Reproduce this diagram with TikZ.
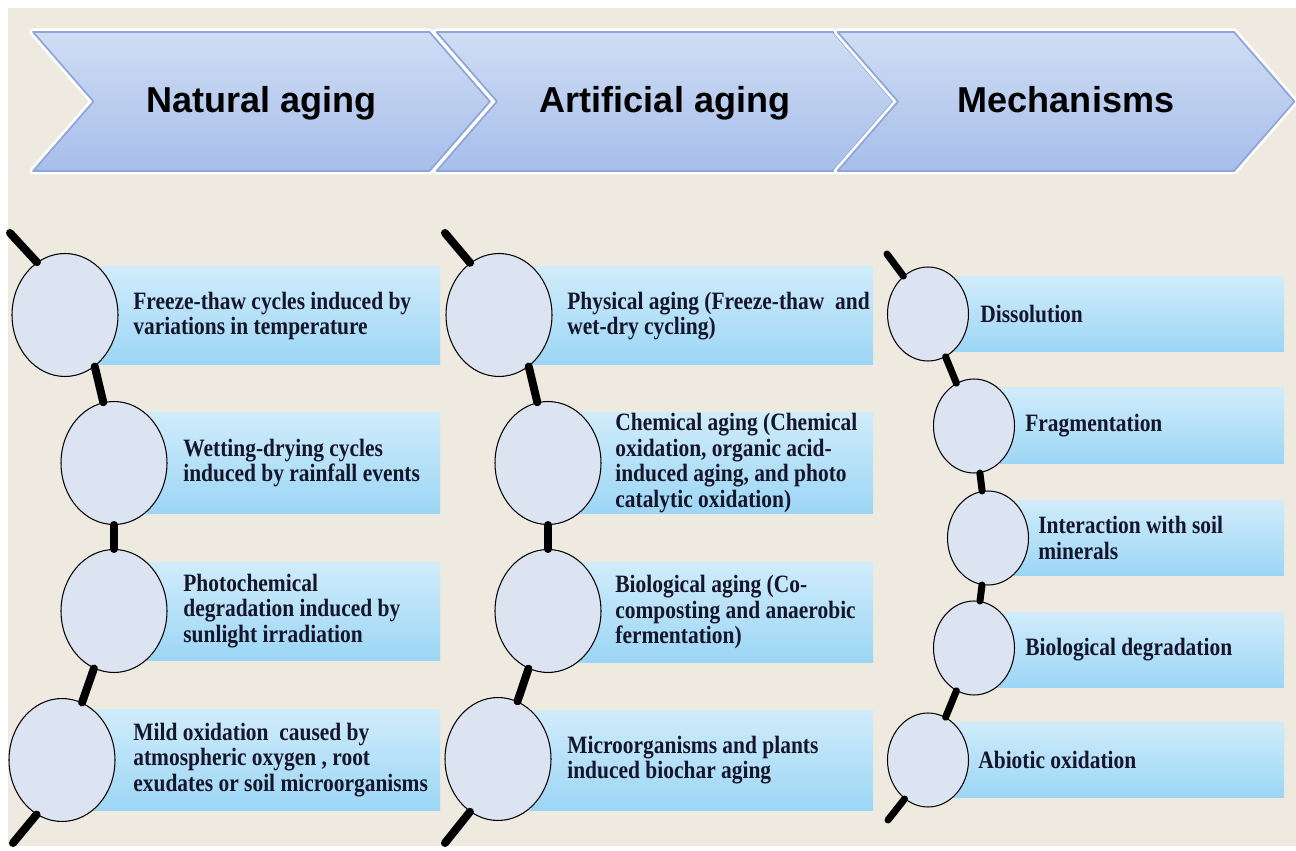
\documentclass[tikz,border=0pt]{standalone}
\usepackage{fontspec}
\usepackage{tikz}
\usetikzlibrary{shapes.geometric,shapes.symbols}
\newfontfamily\headfont{Liberation Sans}
\newfontfamily\bodyfont{Liberation Serif}[FakeStretch=0.86]
\definecolor{bgbeige}{HTML}{EEEAE0}
\definecolor{ballfill}{HTML}{DDE4F1}
\definecolor{txtnavy}{HTML}{15152B}

\begin{document}
\begin{tikzpicture}[x=0.02cm, y=-0.02cm, line join=round,
    main/.style = {draw, ellipse, line width=0.6pt, fill=ballfill, inner sep=0pt, minimum width=2.12cm, minimum height=2.46cm},
    small/.style = {main, minimum width=1.62cm, minimum height=1.88cm},
    chev/.style = {signal, signal from=west, signal to=east, signal pointer angle=98, minimum width=9.14cm, minimum height=2.78cm, inner sep=0pt, text height=0.52cm, text depth=0.06cm, top color={rgb,255:red,208;green,221;blue,244}, bottom color={rgb,255:red,166;green,190;blue,234}, draw={rgb,255:red,142;green,166;blue,216}, line width=1pt, preaction={draw=white, line width=4pt}, font=\headfont\bfseries\fontsize{20.5}{24}\selectfont},
    box/.style = {top color={rgb,255:red,208;green,236;blue,251}, bottom color={rgb,255:red,156;green,214;blue,245}},
    txt/.style = {anchor=west, align=left, inner sep=0pt, text=txtnavy, font=\bodyfont\bfseries\fontsize{14.2}{14.6}\selectfont},
    link/.style = {line width=0.16cm, line cap=round},
    thin link/.style = {line width=0.14cm, line cap=round}]
\useasboundingbox (0,0) rectangle (1296,851);
\fill[white] (0,0) rectangle (1296,851);
\fill[bgbeige] (8,8) rectangle (1296,846);

% header arrows
\node [chev] (h1) at (261.5,101.5) {Natural aging};
\node [chev] (h2) at (665,101.5) {Artificial aging};
\node [chev] (h3) at (1066,101.5) {Mechanisms};

% boxes
\path[box] (65,267) rectangle (440,365);
\path[box] (114,413) rectangle (440,513);
\path[box] (114,562) rectangle (440,660);
\path[box] (62,709) rectangle (440,810);
\path[box] (499,267) rectangle (873,365);
\path[box] (548,413) rectangle (873,513);
\path[box] (548,562) rectangle (873,662);
\path[box] (498,710) rectangle (873,810);
\path[box] (928,277) rectangle (1284,352);
\path[box] (974,388) rectangle (1284,464);
\path[box] (988,500) rectangle (1284,575);
\path[box] (974,612) rectangle (1284,687);
\path[box] (928,722) rectangle (1284,797);

% natural aging
\node [main] (n1) at (65,315) {};
\node [main] (n2) at (114,463) {};
\node [main] (n3) at (114,611) {};
\node [main] (n4) at (62,760) {};
\coordinate (s1) at (10,233);
\coordinate (e1) at (13,843);
\node [txt] (t1) at (133,316) {Freeze-thaw cycles induced by\\variations in temperature};
\node [txt] (t2) at (183,463) {Wetting-drying cycles\\induced by rainfall events};
\node [txt] (t3) at (183,611) {Photochemical\\degradation induced by\\sunlight irradiation};
\node [txt] (t4) at (133,760) {Mild oxidation\ \ caused by\\atmospheric oxygen , root\\exudates or soil microorganisms};

% artificial aging
\node [main] (a1) at (499,315) {};
\node [main] (a2) at (548,463) {};
\node [main] (a3) at (548,611) {};
\node [main] (a4) at (498,759) {};
\coordinate (s2) at (445,233);
\coordinate (e2) at (445,843);
\node [txt] (u1) at (567,316) {Physical aging (Freeze-thaw\ \ and\\wet-dry cycling)};
\node [txt] (u2) at (615,463) {Chemical aging (Chemical\\oxidation, organic acid-\\induced aging, and photo\\catalytic oxidation)};
\node [txt] (u3) at (615,612) {Biological aging (Co-\\composting and anaerobic\\fermentation)};
\node [txt] (u4) at (567,760) {Microorganisms and plants\\induced biochar aging};

% mechanisms
\node [small] (m1) at (928,314) {};
\node [small] (m2) at (974,426) {};
\node [small] (m3) at (988,538) {};
\node [small] (m4) at (974,648) {};
\node [small] (m5) at (928,760) {};
\coordinate (s3) at (887,254);
\coordinate (e3) at (888,820);
\node [txt] (v1) at (980,314) {Dissolution};
\node [txt] (v2) at (1025,426) {Fragmentation};
\node [txt] (v3) at (1038,538) {Interaction with soil\\minerals};
\node [txt] (v4) at (1025,650) {Biological degradation};
\node [txt] (v5) at (978,760) {Abiotic oxidation};

\draw[link] (s1) -- (n1.118);
\draw[link] (n1.300) -- (n2.100);
\draw[link] (n2) -- (n3);
\draw[link] (n3) -- (n4);
\draw[link] (n4.245) -- (e1);

\draw[link] (s2) -- (a1.119);
\draw[link] (a1.300) -- (a2.100);
\draw[link] (a2) -- (a3);
\draw[link] (a3) -- (a4);
\draw[link] (a4.242) -- (e2);

\draw[thin link] (s3) -- (m1.123);
\draw[thin link] (m1) -- (m2);
\draw[thin link] (m2) -- (m3);
\draw[thin link] (m3) -- (m4);
\draw[thin link] (m4) -- (m5);
\draw[thin link] (m5.239) -- (e3);

\end{tikzpicture}
\end{document}
